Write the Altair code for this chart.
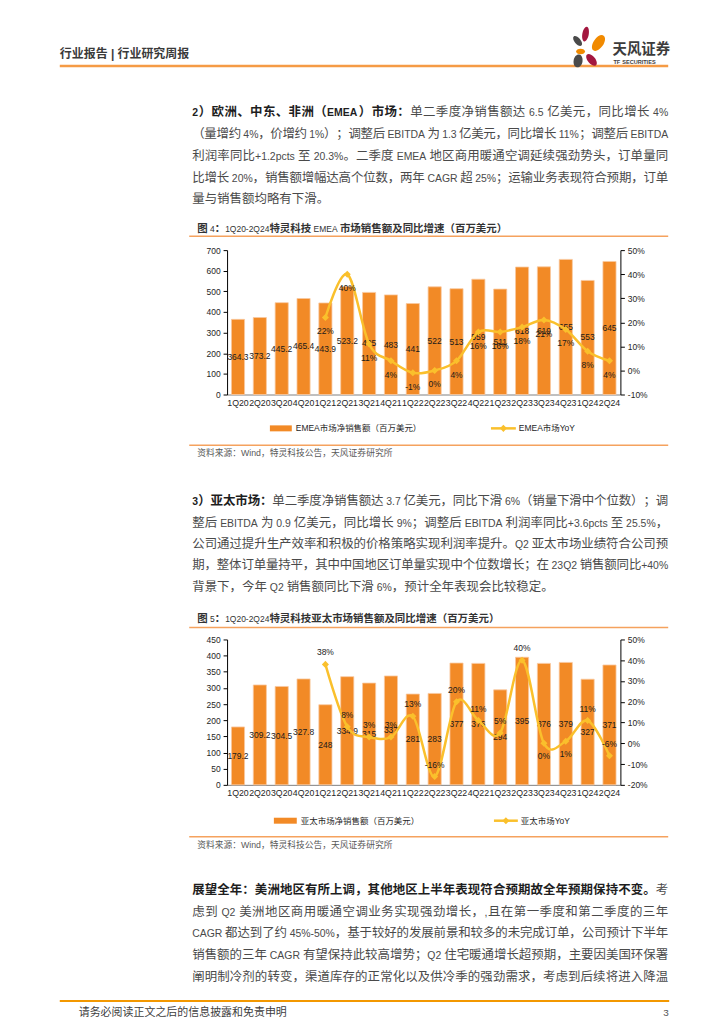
import altair as alt
import pandas as pd

FONT = "Liberation Sans, Noto Sans CJK SC"
BAR = "#F28A26"
BAR_EDGE = "#F9C9A0"
GOLD = "#FAC02C"
RULE = "#F5A25E"
RULE_TOP = "#F59B45"
RULE_FOOT = "#F39800"
TXT = "#4a4a4a"
TXT_B = "#1e1e1e"
TXT_T = "#333333"

# ---------------- data ----------------
quarters = ["1Q20", "2Q20", "3Q20", "4Q20", "1Q21", "2Q21", "3Q21", "4Q21", "1Q22",
            "2Q22", "3Q22", "4Q22", "1Q23", "2Q23", "3Q23", "4Q23", "1Q24", "2Q24"]
emea_sales = [364.3, 373.2, 445.2, 465.4, 443.9, 523.2, 495, 483, 441,
              522, 513, 559, 511, 618, 619, 655, 553, 645]
emea_yoy = [None, None, None, None, 22, 40, 11, 4, -1, 0, 4, 16, 16, 18, 21, 17, 8, 4]
apac_sales = [179.2, 309.2, 304.5, 327.8, 248, 334.9, 315, 337, 281,
              283, 377, 376, 294, 395, 376, 379, 327, 371]
apac_yoy = [None, None, None, None, 38, 8, 3, 3, 13, -16, 20, 11, 5, 40, 0, 1, 11, -6]
apac_labels_below = ["3Q23", "4Q23"]

emea_left_ticks = [0, 100, 200, 300, 400, 500, 600, 700]
emea_right_ticks = [-10, 0, 10, 20, 30, 40, 50]
apac_left_ticks = [0, 50, 100, 150, 200, 250, 300, 350, 400, 450]
apac_right_ticks = [-20, -10, 0, 10, 20, 30, 40, 50]

header_text = "行业报告 | 行业研究周报"
brand_cn = "天风证券"
brand_en = "TF SECURITIES"
fig4_title = "图 4：1Q20-2Q24特灵科技 EMEA 市场销售额及同比增速（百万美元）"
fig5_title = "图 5：1Q20-2Q24特灵科技亚太市场销售额及同比增速（百万美元）"
leg1_bar = "EMEA市场净销售额（百万美元）"
leg1_line = "EMEA市场YoY"
leg2_bar = "亚太市场净销售额（百万美元）"
leg2_line = "亚太市场YoY"
source_text = "资料来源：Wind，特灵科技公告，天风证券研究所"
footer_text = "请务必阅读正文之后的信息披露和免责申明"
page_no = "3"

para1 = [
    [("2）欧洲、中东、非洲（EMEA）市场：", True), ("单二季度净销售额达 6.5 亿美元，同比增长 4%", False)],
    [("（量增约 4%，价增约 1%）；调整后 EBITDA 为 1.3 亿美元，同比增长 11%；调整后 EBITDA", False)],
    [("利润率同比+1.2pcts 至 20.3%。二季度 EMEA 地区商用暖通空调延续强劲势头，订单量同", False)],
    [("比增长 20%，销售额增幅达高个位数，两年 CAGR 超 25%；运输业务表现符合预期，订单", False)],
    [("量与销售额均略有下滑。", False)],
]
para2 = [
    [("3）亚太市场：", True), ("单二季度净销售额达 3.7 亿美元，同比下滑 6%（销量下滑中个位数）；调", False)],
    [("整后 EBITDA 为 0.9 亿美元，同比增长 9%；调整后 EBITDA 利润率同比+3.6pcts 至 25.5%，", False)],
    [("公司通过提升生产效率和积极的价格策略实现利润率提升。Q2 亚太市场业绩符合公司预", False)],
    [("期，整体订单量持平，其中中国地区订单量实现中个位数增长；在 23Q2 销售额同比+40%", False)],
    [("背景下，今年 Q2 销售额同比下滑 6%，预计全年表现会比较稳定。", False)],
]
para3 = [
    [("展望全年：美洲地区有所上调，其他地区上半年表现符合预期故全年预期保持不变。", True), ("考", False)],
    [("虑到 Q2 美洲地区商用暖通空调业务实现强劲增长，,且在第一季度和第二季度的三年", False)],
    [("CAGR 都达到了约 45%-50%，基于较好的发展前景和较多的未完成订单，公司预计下半年", False)],
    [("销售额的三年 CAGR 有望保持此较高增势；Q2 住宅暖通增长超预期，主要因美国环保署", False)],
    [("阐明制冷剂的转变，渠道库存的正常化以及供冷季的强劲需求，考虑到后续将进入降温", False)],
]

# ---------------- text layout helpers ----------------
ARIAL = {' ': 0.278, '.': 0.278, ',': 0.278, '%': 0.889, '+': 0.584, '-': 0.333, '|': 0.26,
         ':': 0.278, '0': 0.556, '1': 0.556, '2': 0.556, '3': 0.556, '4': 0.556, '5': 0.556,
         '6': 0.556, '7': 0.556, '8': 0.556, '9': 0.556, 'A': 0.667, 'B': 0.667, 'C': 0.722,
         'D': 0.722, 'E': 0.667, 'F': 0.611, 'G': 0.778, 'I': 0.278, 'M': 0.833, 'Q': 0.778,
         'R': 0.722, 'S': 0.667, 'T': 0.611, 'U': 0.722, 'W': 0.944, 'Y': 0.667, 'a': 0.556,
         'c': 0.5, 'd': 0.556, 'i': 0.222, 'n': 0.556, 'o': 0.556, 'p': 0.556, 's': 0.5, 't': 0.278}


def is_cjk(ch):
    return ord(ch) >= 0x2E80


def layout(segments, x0, yc, fs_c, fs_l, origin, target=None, col=TXT, col_b=TXT_B):
    ox, oy = origin
    items = []
    for text, bold in segments:
        buf = ""
        for ch in text + "\0":
            if ch == "\0" or ch == " " or is_cjk(ch):
                if buf:
                    b = 1 if bold is True else 0
                    w = sum(ARIAL.get(c, 0.556) for c in buf) * fs_l * (1.06 if b else 1.0)
                    items.append((buf, w, b, fs_l))
                    buf = ""
                if ch == " ":
                    items.append((None, 0.278 * fs_l, 0, fs_l))
                elif ch != "\0":
                    items.append((ch, fs_c, 1 if bold else 0, fs_c))
            else:
                buf += ch
    natural = sum(it[1] for it in items)
    gap = 0.0
    if target is not None and len(items) > 1:
        gap = (target - natural) / (len(items) - 1)
    yb = yc + 0.37 * fs_c - oy
    rows = []
    x = x0 - ox
    for t, w, b, s in items:
        if t is not None:
            rows.append({"x": x, "y": yb, "t": t, "s": s, "b": b, "c": col_b if b else col})
        x += w + gap
    return rows


def paragraph(lines, ys, origin, justify_last=False):
    rows = []
    for i, (segs, y) in enumerate(zip(lines, ys)):
        last = i == len(lines) - 1
        tgt = 478 if (not last or justify_last) else None
        rows += layout(segs, 190, y, 12.5, 10.5, origin, target=tgt)
    return rows


def ellipse_path(r):
    k = 0.5523
    return (f"M0,-1C{k*r:.3f},-1 {r:.3f},{-k:.3f} {r:.3f},0C{r:.3f},{k:.3f} {k*r:.3f},1 0,1"
            f"C{-k*r:.3f},1 {-r:.3f},{k:.3f} {-r:.3f},0C{-r:.3f},{-k:.3f} {-k*r:.3f},-1 0,-1Z")


XP = alt.X("x:Q", scale=None, axis=None)
YP = alt.Y("y:Q", scale=None, axis=None)


def panel(w, h, origin, texts, rules=(), rects=(), diamonds=(), petals=()):
    ox, oy = origin
    layers = []
    if rects:
        df = pd.DataFrame([(a - ox, b - ox, c - oy, d - oy, e) for a, b, c, d, e in rects],
                          columns=["x", "x2", "y", "y2", "c"])
        layers.append(alt.Chart(df).mark_rect().encode(
            x=XP, x2="x2:Q", y=YP, y2="y2:Q", color=alt.Color("c:N", scale=None, legend=None)))
    if rules:
        df = pd.DataFrame([(a - ox, b - ox, c - oy, d, e) for a, b, c, d, e in rules],
                          columns=["x", "x2", "y", "c", "w"])
        layers.append(alt.Chart(df).mark_rule().encode(
            x=XP, x2="x2:Q", y=YP, color=alt.Color("c:N", scale=None, legend=None),
            strokeWidth=alt.StrokeWidth("w:Q", scale=None, legend=None)))
    if diamonds:
        df = pd.DataFrame([(a - ox, b - oy) for a, b in diamonds], columns=["x", "y"])
        layers.append(alt.Chart(df).mark_point(shape="diamond", filled=True, size=50,
                                               color=GOLD, opacity=1).encode(x=XP, y=YP))
    if petals:
        df = pd.DataFrame([(px - ox, py - oy, ellipse_path(pw / pl), pl * pl, pa, pc)
                           for px, py, pl, pw, pa, pc in petals],
                          columns=["x", "y", "p", "s", "a", "c"])
        layers.append(alt.Chart(df).mark_point(filled=True, opacity=1, strokeWidth=0).encode(
            x=XP, y=YP, shape=alt.Shape("p:N", scale=None, legend=None),
            size=alt.Size("s:Q", scale=None, legend=None), angle=alt.Angle("a:Q", scale=None),
            color=alt.Color("c:N", scale=None, legend=None)))
    tdf = pd.DataFrame(texts)
    base = alt.Chart(tdf).encode(
        x=XP, y=YP, text="t:N", size=alt.Size("s:Q", scale=None, legend=None),
        color=alt.Color("c:N", scale=None, legend=None))
    layers.append(base.transform_filter("datum.b == 0").mark_text(
        align="left", baseline="alphabetic", font=FONT))
    layers.append(base.transform_filter("datum.b == 1").mark_text(
        align="left", baseline="alphabetic", font=FONT, fontWeight="bold"))
    return alt.layer(*layers).properties(width=w, height=h)


def spacer(w, h):
    return alt.Chart(pd.DataFrame({"x": [0]})).mark_point(opacity=0).encode(
        x=XP, y=alt.value(0)).properties(width=w, height=h)


def market_chart(sales, yoy, ldom, lvals, rdom, rvals, height, below, dy_above, dy_below):
    df = pd.DataFrame({"q": quarters, "sales": sales, "yoy": yoy})
    df["slab"] = [f"{v:g}" for v in sales]
    df["ylab"] = ["" if v is None else f"{v:g}%" for v in yoy]
    ax_x = alt.Axis(labelAngle=0, labelFont=FONT, labelFontSize=8.8, labelColor="#262626",
                    labelOverlap=False, ticks=False, domainColor="#808080", labelPadding=4)
    X = alt.X("q:N", sort=quarters, title=None,
              scale=alt.Scale(paddingInner=0.4, paddingOuter=0.2), axis=ax_x)
    ax_l = alt.Axis(values=lvals, grid=False, tickSize=4, tickColor="#000", domainColor="#000",
                    labelFont=FONT, labelFontSize=8.5, labelColor="#262626", labelPadding=3)
    sc_l = alt.Scale(domain=ldom, nice=False)
    ax_r = alt.Axis(values=rvals, grid=False, tickSize=4, tickColor="#000", domainColor="#000",
                    orient="right", labelExpr="datum.value + '%'", labelFont=FONT,
                    labelFontSize=8.5, labelColor="#262626", labelPadding=3)
    sc_r = alt.Scale(domain=rdom, nice=False)
    base = alt.Chart(df)
    bars = base.mark_bar(color=BAR, stroke=BAR_EDGE, strokeWidth=0.8).encode(
        x=X, y=alt.Y("sales:Q", title=None, scale=sc_l, axis=ax_l))
    blab = base.transform_calculate(mid="datum.sales / 2").mark_text(
        font=FONT, fontSize=8.5, color="#1a1a1a", baseline="middle").encode(
        x=X, y=alt.Y("mid:Q", title=None, scale=sc_l, axis=ax_l), text="slab:N")
    left = alt.layer(bars, blab)
    lb = base.transform_filter("isValid(datum.yoy)")
    Yr = alt.Y("yoy:Q", title=None, scale=sc_r, axis=ax_r)
    line = lb.mark_line(interpolate="cardinal", color=GOLD, strokeWidth=2.5).encode(x=X, y=Yr)
    pts = lb.mark_point(shape="diamond", filled=True, size=50, color=GOLD, opacity=1).encode(x=X, y=Yr)
    below_expr = "indexof([" + ",".join(f"'{q}'" for q in below) + "], datum.q) >= 0"
    lab_a = lb.transform_filter("!(" + below_expr + ")").mark_text(
        font=FONT, fontSize=8.5, color="#1a1a1a", baseline="middle", dy=dy_above).encode(
        x=X, y=Yr, text="ylab:N")
    lab_b = lb.transform_filter(below_expr).mark_text(
        font=FONT, fontSize=8.5, color="#1a1a1a", baseline="middle", dy=dy_below).encode(
        x=X, y=Yr, text="ylab:N")
    right = alt.layer(line, pts, lab_a, lab_b)
    return alt.layer(left, right).resolve_scale(y="independent").properties(width=395, height=height)


W0, W1, W2 = 217, 395, 96

# ---------------- row A: header, paragraph 1, figure 4 title ----------------
oA = (8, 8)
textsA = []
textsA += layout([(header_text, True)], 57, 49, 12, 12, oA, col="#3a3a3a", col_b="#3a3a3a")
textsA += layout([(brand_cn, True)], 612, 44, 14.5, 14.5, oA, col="#3c3c3c", col_b="#3c3c3c")
textsA += layout([(brand_en, True)], 613, 57.5, 5.6, 5.6, oA, col="#3c3c3c", col_b="#3c3c3c")
textsA += paragraph(para1, [107, 129, 151, 172.5, 194], oA)
textsA += layout([(fig4_title, "cjk")], 195, 224, 10.5, 8.5, oA, col=TXT_T, col_b=TXT_T)
petals = [
    (585, 29, 15, 6.5, 10, "#A3173F"),
    (577, 36, 12, 6, 320, "#4A4A4A"),
    (598, 38, 18, 10, 35, "#F18A00"),
    (580, 46.5, 9, 5.5, 90, "#F18A00"),
    (577.5, 56, 13, 9, 10, "#4A4A4A"),
    (591, 55, 14, 7.5, 320, "#A3173F"),
]
hA = 238
panelA = panel(W0, hA, oA, textsA,
               rules=[(57, 668, 61, RULE_TOP, 2.5), (187, 668, 232, RULE, 1.5)],
               petals=petals)

# ---------------- row B: chart 1 ----------------
hB = 145
chart1 = market_chart(emea_sales, emea_yoy, [0, 700], emea_left_ticks, [-10, 50],
                      emea_right_ticks, hB, quarters, -12, 14)

# ---------------- row C: legend 1, source, paragraph 2, figure 5 title ----------------
oC = (8, 391)
textsC = []
textsC += layout([(leg1_bar, False)], 294, 425, 8.5, 8.5, oC, col="#262626")
textsC += layout([(leg1_line, False)], 518, 425, 8.5, 8.5, oC, col="#262626")
textsC += layout([(source_text, False)], 195, 449, 8.8, 8.8, oC, col="#595959")
textsC += paragraph(para2, [497, 519, 540.5, 562, 583.5], oC)
textsC += layout([(fig5_title, "cjk")], 195, 616, 10.5, 8.5, oC, col=TXT_T, col_b=TXT_T)
hC = 246
panelC = panel(W0, hC, oC, textsC,
               rules=[(490, 515, 425, GOLD, 2.5), (187, 668, 442, RULE, 1.5), (187, 668, 625, RULE, 1.5)],
               rects=[(268, 290, 422, 428, BAR)],
               diamonds=[(502.5, 425)])

# ---------------- row D: chart 2 ----------------
hD = 146
chart2 = market_chart(apac_sales, apac_yoy, [0, 450], apac_left_ticks, [-20, 50],
                      apac_right_ticks, hD, apac_labels_below, -12, 13)

# ---------------- row E: legend 2, source, paragraph 3, footer ----------------
oE = (8, 783)
textsE = []
textsE += layout([(leg2_bar, False)], 299, 819, 8.5, 8.5, oE, col="#262626")
textsE += layout([(leg2_line, False)], 520, 819, 8.5, 8.5, oE, col="#262626")
textsE += layout([(source_text, False)], 195, 843, 8.8, 8.8, oE, col="#595959")
textsE += paragraph(para3, [888, 910, 931.5, 953, 975], oE, justify_last=True)
textsE += layout([(footer_text, False)], 76, 1011, 11, 11, oE, col="#404040")
textsE += layout([(page_no, False)], 663, 1011, 10, 10, oE, col="#555555")
hE = 225
panelE = panel(W0, hE, oE, textsE,
               rules=[(493, 517, 819, GOLD, 2.5), (187, 668, 835, RULE, 1.5), (57, 669, 1000, RULE_FOOT, 2)],
               rects=[(272, 295, 816, 822, BAR)],
               diamonds=[(505, 819)])

cells = [
    panelA, spacer(W1, hA), spacer(W2, hA),
    spacer(W0, hB), chart1, spacer(W2, hB),
    panelC, spacer(W1, hC), spacer(W2, hC),
    spacer(W0, hD), chart2, spacer(W2, hD),
    panelE, spacer(W1, hE), spacer(W2, hE),
]

chart = alt.concat(*cells, columns=3, spacing=0, bounds="flush").properties(
    padding=0, background="white").configure_view(strokeWidth=0)

chart.save("out.html", embed_options={"renderer": "svg", "actions": False})
